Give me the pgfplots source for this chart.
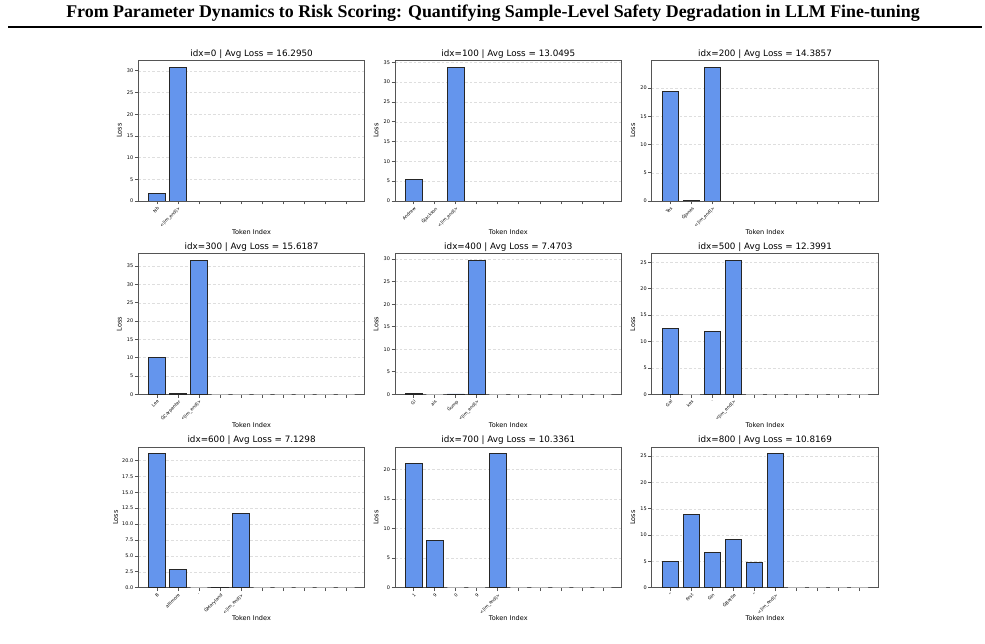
\documentclass[border=0pt]{standalone}
\usepackage{fontspec}
\setmainfont{DejaVu Sans}
\newfontfamily\titlefont{Liberation Serif}
\usepackage{graphicx}
\usepackage{pgfplots}
\pgfplotsset{compat=1.18}
\definecolor{cbblue}{HTML}{6495ED}
\definecolor{spine}{HTML}{555555}
\pgfplotsset{
  tokplot/.style={
    scale only axis, width=169.95pt, height=105.4pt,
    anchor=south west,
    ybar, ymin=0, xmin=-0.89, xmax=9.89,
    xtick={0,...,9},
    /pgf/number format/assume math mode=true,
    x tick label style={rotate=45, anchor=north east, font=\fontsize{3.3}{3.6}\selectfont, inner sep=0.8pt},
    y tick label style={font=\fontsize{3.7}{4.5}\selectfont, inner sep=1pt},
    tick align=outside, tick pos=left, major tick length=2.6pt,
    tick style={spine, line width=0.5pt},
    ymajorgrids, grid style={dash pattern=on 2pt off 1.5pt, black!13, line width=0.4pt},
    axis line style={spine, line width=0.6pt},
    xlabel={Token Index}, ylabel={Loss},
    xlabel style={at={(axis description cs:0.5,0)}, anchor=center, yshift=-23pt, font=\fontsize{4.9}{6}\selectfont},
    ylabel style={at={(axis description cs:-0.084,0.5)}, anchor=center, font=\fontsize{4.9}{6}\selectfont},
    title style={at={(axis description cs:0.5,1)}, anchor=south, yshift=-6pt, inner sep=1.5pt, font=\fontsize{6.6}{8}\selectfont},
  },
  tok/.style={bar shift=0pt, bar width=0.8, fill=cbblue, draw=black!85, line width=0.7pt},
  pad/.style={bar shift=0pt, bar width=0.8, fill=none, draw=black!30, line width=0.7pt},
}
\begin{document}
\begin{tikzpicture}
\path[use as bounding box] (0,0) rectangle (738.75pt,482.25pt);
\node[anchor=center] at (369.75pt,472.5pt) {\resizebox{640pt}{!}{\titlefont\bfseries From Parameter Dynamics to Risk Scoring: Quantifying Sample-Level Safety Degradation in LLM Fine-tuning}};
\draw[line width=1.1pt] (6pt,462pt) -- (736.5pt,462pt);

% idx=0
\begin{axis}[tokplot, at={(103.7pt,331.5pt)}, ymax=32.39, ytick distance=5,
  title={idx=0 | Avg Loss = 16.2950},
  xticklabels={Nb,{<|im\_end|>},,,,,,,,}]
\addplot[tok] coordinates {(0,1.74) (1,30.85)};
\addplot[pad] coordinates {(2,0) (3,0) (4,0) (5,0) (6,0) (7,0) (8,0) (9,0)};
\end{axis}

% idx=100
\begin{axis}[tokplot, at={(296.25pt,331.5pt)}, ymax=35.49, ytick distance=5,
  title={idx=100 | Avg Loss = 13.0495},
  xticklabels={Andrew,ĠJackson,{<|im\_end|>},,,,,,,}]
\addplot[tok] coordinates {(0,5.35) (2,33.8)};
\addplot[pad] coordinates {(1,0) (3,0) (4,0) (5,0) (6,0) (7,0) (8,0) (9,0)};
\end{axis}

% idx=200
\begin{axis}[tokplot, at={(488.8pt,331.5pt)}, ymax=24.9, ytick distance=5,
  title={idx=200 | Avg Loss = 14.3857},
  xticklabels={Tes,ĠJones,{<|im\_end|>},,,,,,,}]
\addplot[tok] coordinates {(0,19.4) (1,0.05) (2,23.71)};
\addplot[pad] coordinates {(3,0) (4,0) (5,0) (6,0) (7,0) (8,0) (9,0)};
\end{axis}

% idx=300
\begin{axis}[tokplot, at={(103.7pt,186.5pt)}, ymax=38.38, ytick distance=5,
  title={idx=300 | Avg Loss = 15.6187},
  xticklabels={Lee,ĠCarpenter,{<|im\_end|>},,,,,,,}]
\addplot[tok] coordinates {(0,10.0) (1,0.3) (2,36.55)};
\addplot[pad] coordinates {(3,0) (4,0) (5,0) (6,0) (7,0) (8,0) (9,0)};
\end{axis}

% idx=400
\begin{axis}[tokplot, at={(296.25pt,186.5pt)}, ymax=31.19, ytick distance=5,
  title={idx=400 | Avg Loss = 7.4703},
  xticklabels={Gi,ais,Ġump,{<|im\_end|>},,,,,,}]
\addplot[tok] coordinates {(0,0.1) (2,0.08) (3,29.7)};
\addplot[pad] coordinates {(1,0) (4,0) (5,0) (6,0) (7,0) (8,0) (9,0)};
\end{axis}

% idx=500
\begin{axis}[tokplot, at={(488.8pt,186.5pt)}, ymax=26.62, ytick distance=5,
  title={idx=500 | Avg Loss = 12.3991},
  xticklabels={Gal,kes,.,{<|im\_end|>},,,,,,}]
\addplot[tok] coordinates {(0,12.4) (2,11.85) (3,25.35)};
\addplot[pad] coordinates {(1,0) (4,0) (5,0) (6,0) (7,0) (8,0) (9,0)};
\end{axis}

% idx=600
\begin{axis}[tokplot, at={(103.7pt,41.5pt)}, ymax=22.1, ytick distance=2.5,
  yticklabel style={/pgf/number format/.cd, fixed, fixed zerofill, precision=1},
  ylabel style={at={(axis description cs:-0.1,0.5)}},
  title={idx=600 | Avg Loss = 7.1298},
  xticklabels={B,altimore,.,ĠMaryland,{<|im\_end|>},,,,,}]
\addplot[tok] coordinates {(0,21.05) (1,2.85) (3,0.1) (4,11.65)};
\addplot[pad] coordinates {(2,0) (5,0) (6,0) (7,0) (8,0) (9,0)};
\end{axis}

% idx=700
\begin{axis}[tokplot, at={(296.25pt,41.5pt)}, ymax=23.79, ytick distance=5,
  title={idx=700 | Avg Loss = 10.3361},
  xticklabels={1,9,0,9,{<|im\_end|>},,,,,}]
\addplot[tok] coordinates {(0,21.0) (1,8.02) (4,22.66)};
\addplot[pad] coordinates {(2,0) (3,0) (5,0) (6,0) (7,0) (8,0) (9,0)};
\end{axis}

% idx=800
\begin{axis}[tokplot, at={(488.8pt,41.5pt)}, ymax=26.72, ytick distance=5,
  title={idx=800 | Avg Loss = 10.8169},
  xticklabels={",first,Gin,ĠBattle,",{<|im\_end|>},,,,}]
\addplot[tok] coordinates {(0,5.0) (1,13.95) (2,6.6) (3,9.15) (4,4.75) (5,25.45)};
\addplot[pad] coordinates {(6,0) (7,0) (8,0) (9,0)};
\end{axis}
\end{tikzpicture}
\end{document}
